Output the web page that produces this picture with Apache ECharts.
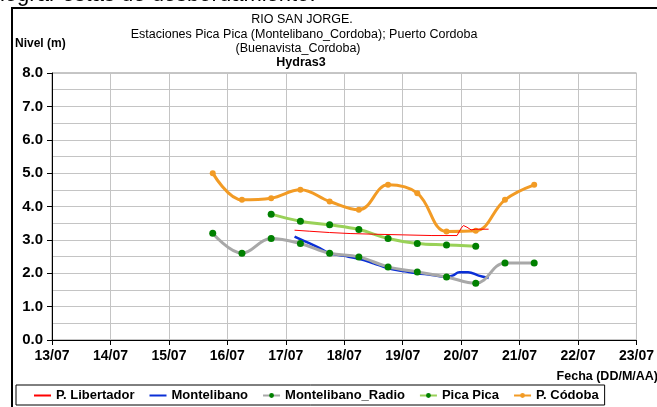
<!DOCTYPE html>
<html>
<head>
<meta charset="utf-8">
<script src="https://cdn.jsdelivr.net/npm/echarts@6/dist/echarts.min.js"></script>
<style>
  html, body { margin: 0; padding: 0; background: #fff; }
  #chart { width: 657px; height: 407px; }
</style>
</head>
<body>
<div id="chart"></div>
<script>
// Day-of-July positions (fractional days) and water levels in metres
const dayTicks = ['13/07', '14/07', '15/07', '16/07', '17/07', '18/07', '19/07', '20/07', '21/07', '22/07', '23/07'];
const firstDay = 13;

const cordobaDays = [15.75, 16.25, 16.75, 17.25, 17.75, 18.25, 18.75, 19.25, 19.75, 20.25, 20.75, 21.25];
const cordobaLevels = [5.0, 4.2, 4.25, 4.5, 4.15, 3.9, 4.65, 4.4, 3.25, 3.27, 4.2, 4.65];

const picaDays = [16.75, 17.25, 17.75, 18.25, 18.75, 19.25, 19.75, 20.25];
const picaLevels = [3.77, 3.56, 3.45, 3.31, 3.04, 2.89, 2.85, 2.81];

const radioDays = [15.75, 16.25, 16.75, 17.25, 17.75, 18.25, 18.75, 19.25, 19.75, 20.25, 20.75, 21.25];
const radioLevels = [3.2, 2.6, 3.04, 2.89, 2.6, 2.49, 2.19, 2.04, 1.89, 1.7, 2.31, 2.31];

const montelibanoDays = [17.15, 17.4, 17.58, 17.75, 18.0, 18.25, 18.5, 18.75, 19.0, 19.25, 19.5, 19.72, 19.85, 19.97, 20.12, 20.3, 20.47];
const montelibanoLevels = [3.1, 2.9, 2.75, 2.6, 2.52, 2.43, 2.3, 2.15, 2.07, 2.0, 1.95, 1.89, 1.93, 2.03, 2.03, 1.93, 1.86];

const libertadorDays = [17.15, 17.4, 17.75, 18.1, 18.5, 19.0, 19.5, 19.93, 20.0, 20.04, 20.1, 20.17, 20.25, 20.47];
const libertadorLevels = [3.29, 3.26, 3.22, 3.19, 3.17, 3.15, 3.13, 3.13, 3.35, 3.43, 3.38, 3.3, 3.32, 3.32];

function pairs(xs, ys) { return xs.map((x, i) => [x, ys[i]]); }

const FONT = 'Liberation Sans, Arial, sans-serif';
const chart = echarts.init(document.getElementById('chart'), null, { renderer: 'canvas' });

chart.setOption({
  animation: false,
  backgroundColor: '#fff',
  textStyle: { fontFamily: FONT },
  grid: {
    left: 52, right: 20, top: 73, bottom: 67,
    show: true, borderColor: '#8c8c8c', borderWidth: 1
  },
  xAxis: {
    type: 'value', min: 13, max: 23, interval: 1,
    axisLine: { show: true, lineStyle: { color: '#000', width: 1 } },
    axisTick: { show: true, inside: false, length: 5, lineStyle: { color: '#000' } },
    axisLabel: {
      margin: 9, color: '#000', fontWeight: 'bold', fontSize: 14, fontFamily: FONT,
      formatter: v => dayTicks[Math.round(v - firstDay)] || ''
    },
    splitLine: { show: true, lineStyle: { color: '#c4c4c4', width: 1 } }
  },
  yAxis: {
    type: 'value', min: 0, max: 8, interval: 1,
    axisLine: { show: true, lineStyle: { color: '#000', width: 1 } },
    axisTick: { show: true, inside: false, length: 5, lineStyle: { color: '#000' } },
    axisLabel: {
      margin: 9, color: '#000', fontWeight: 'bold', fontSize: 15, fontFamily: FONT,
      formatter: v => v.toFixed(1)
    },
    splitLine: { show: true, lineStyle: { color: '#c4c4c4', width: 1 } },
    minorTick: { show: false, splitNumber: 2 },
    minorSplitLine: { show: true, lineStyle: { color: '#c4c4c4', width: 1 } }
  },
  legend: {
    left: 16, top: 385,
    padding: [4, 6, 3, 17],
    itemGap: 14, itemWidth: 17, itemHeight: 6,
    borderColor: '#000', borderWidth: 1,
    textStyle: { color: '#000', fontWeight: 'bold', fontSize: 13, fontFamily: FONT },
    data: [
      { name: 'P. Libertador', itemStyle: { opacity: 0 } },
      { name: 'Montelibano', itemStyle: { opacity: 0 } },
      'Montelibano_Radio', 'Pica Pica', 'P. Códoba'
    ]
  },
  graphic: [
    { type: 'text', left: 0, top: -16, silent: true,
      style: { text: 'lograr estas de desbordamiento.', font: '22px ' + FONT, fill: '#000' } },
    { type: 'line', silent: true, shape: { x1: 11, y1: 8, x2: 657, y2: 8 }, style: { stroke: '#000', lineWidth: 2 } },
    { type: 'line', silent: true, shape: { x1: 12, y1: 8, x2: 12, y2: 407 }, style: { stroke: '#000', lineWidth: 2 } },
    { type: 'text', silent: true, style: { x: 302, y: 20, text: 'RIO SAN JORGE.', textAlign: 'center', textVerticalAlign: 'middle', font: '12.5px ' + FONT, fill: '#000' } },
    { type: 'text', silent: true, style: { x: 304, y: 35, text: 'Estaciones Pica Pica (Montelibano_Cordoba); Puerto Cordoba', textAlign: 'center', textVerticalAlign: 'middle', font: '12.5px ' + FONT, fill: '#000' } },
    { type: 'text', silent: true, style: { x: 298, y: 49, text: '(Buenavista_Cordoba)', textAlign: 'center', textVerticalAlign: 'middle', font: '12.5px ' + FONT, fill: '#000' } },
    { type: 'text', silent: true, style: { x: 301, y: 63, text: 'Hydras3', textAlign: 'center', textVerticalAlign: 'middle', font: 'bold 12.5px ' + FONT, fill: '#000' } },
    { type: 'text', silent: true, style: { x: 15, y: 44, text: 'Nivel (m)', textAlign: 'left', textVerticalAlign: 'middle', font: 'bold 12px ' + FONT, fill: '#000' } },
    { type: 'text', silent: true, style: { x: 658, y: 377, text: 'Fecha (DD/M/AA)', textAlign: 'right', textVerticalAlign: 'middle', font: 'bold 12.5px ' + FONT, fill: '#000' } }
  ],
  series: [
    {
      name: 'P. Libertador', type: 'line', data: pairs(libertadorDays, libertadorLevels),
      symbol: 'none', smooth: false,
      lineStyle: { color: '#ff0000', width: 1 }, itemStyle: { color: '#ff5050' }, z: 5
    },
    {
      name: 'Montelibano', type: 'line', data: pairs(montelibanoDays, montelibanoLevels),
      symbol: 'none', smooth: 0.4,
      lineStyle: { color: '#0a2fd6', width: 2.5 }, itemStyle: { color: '#0a2fd6' }, z: 3
    },
    {
      name: 'Montelibano_Radio', type: 'line', data: pairs(radioDays, radioLevels),
      symbol: 'circle', symbolSize: 7, smooth: 0.4,
      lineStyle: { color: '#a8a8a8', width: 3 }, itemStyle: { color: '#008000' }, z: 4
    },
    {
      name: 'Pica Pica', type: 'line', data: pairs(picaDays, picaLevels),
      symbol: 'circle', symbolSize: 7, smooth: 0.4,
      lineStyle: { color: '#99d158', width: 3 }, itemStyle: { color: '#008000' }, z: 4
    },
    {
      name: 'P. Códoba', type: 'line', data: pairs(cordobaDays, cordobaLevels),
      symbol: 'circle', symbolSize: 6, smooth: 0.4,
      lineStyle: { color: '#f29b25', width: 3 }, itemStyle: { color: '#f29b25' }, z: 4
    }
  ]
});
</script>
</body>
</html>
